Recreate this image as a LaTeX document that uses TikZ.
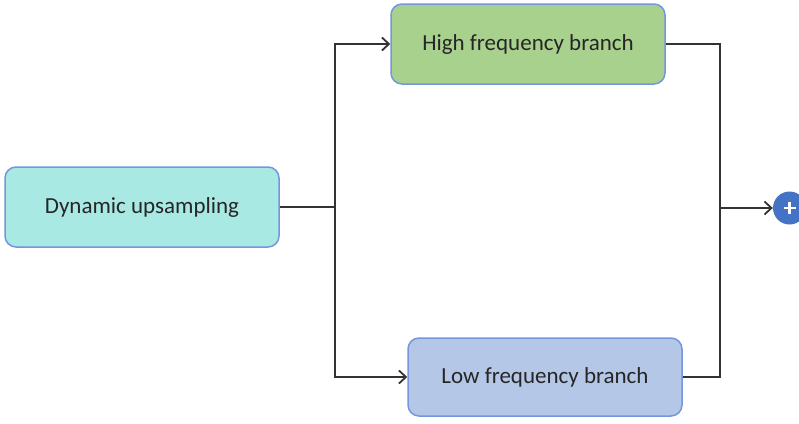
\documentclass[tikz,border=0pt]{standalone}
\usepackage{fontspec}
\setmainfont{Carlito}
\usetikzlibrary{arrows.meta}
\definecolor{dynfill}{HTML}{A9E9E3}
\definecolor{highfill}{HTML}{A9D18E}
\definecolor{lowfill}{HTML}{B4C7E7}
\definecolor{boxline}{HTML}{7396DE}
\definecolor{wire}{HTML}{333333}
\definecolor{sumfill}{HTML}{4472C4}
\begin{document}
\begin{tikzpicture}[x=1pt,y=-1pt,
  block/.style={draw=boxline, line width=1.5pt, rounded corners=11pt,
    minimum width=274pt, minimum height=80pt, inner sep=0pt,
    font=\fontsize{23}{27}\selectfont, text=black!85},
  link/.style={draw=wire, line width=1.8pt},
  arr/.style={link, -{Straight Barb[length=7pt,width=13pt,line width=1.8pt]}}]
\useasboundingbox (0,0) rectangle (799,423);
\node[block, fill=dynfill] (dyn) at (142,207) {Dynamic upsampling};
\node[block, fill=highfill] (high) at (528,44) {High frequency branch};
\node[block, fill=lowfill, minimum height=78pt] (low) at (545,377) {Low frequency branch};
\node[circle, fill=sumfill, minimum size=33pt, inner sep=0pt] (sum) at (789.5,208) {};
\draw[white, line width=2.2pt] ([xshift=-6pt]sum.center) -- ([xshift=6pt]sum.center)
  ([yshift=-6pt]sum.center) -- ([yshift=6pt]sum.center);
% split after the upsampling block
\coordinate (split) at (335,207);
\coordinate (join) at (720,208);
\draw[link] (dyn.east) -- (split);
\draw[arr] (split) |- (high.west);
\draw[arr] (split) |- (low.west);
% merge of both branches
\draw[link] (high.east) -| (join);
\draw[link] (low.east) -| (join);
\draw[arr] (join) -- (sum.west);
\end{tikzpicture}
\end{document}
